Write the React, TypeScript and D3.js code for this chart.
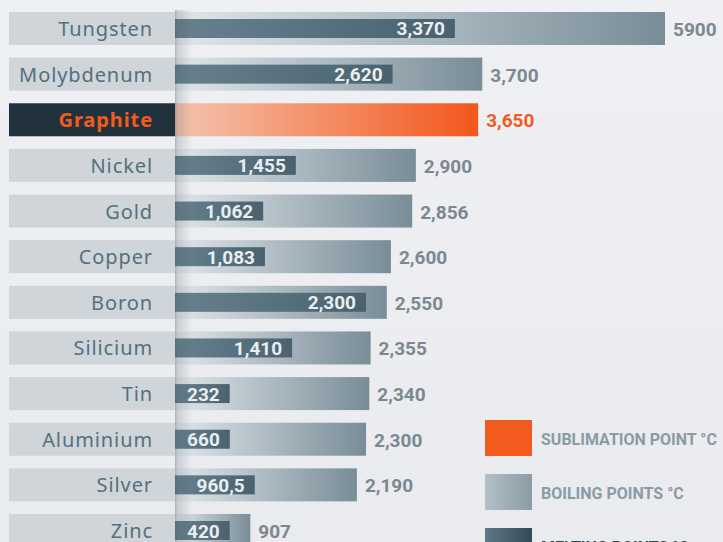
import React from "react";
import * as d3 from "d3";

const elements = ["Tungsten", "Molybdenum", "Graphite", "Nickel", "Gold", "Copper", "Boron", "Silicium", "Tin", "Aluminium", "Silver", "Zinc"];
const boilingValues = [5900, 3700, 3650, 2900, 2856, 2600, 2550, 2355, 2340, 2300, 2190, 907];
const boilingLabels = ["5900", "3,700", "3,650", "2,900", "2,856", "2,600", "2,550", "2,355", "2,340", "2,300", "2,190", "907"];
const meltingValues: (number | null)[] = [3370, 2620, null, 1455, 1062, 1083, 2300, 1410, 232, 660, 960.5, 420];
const meltingLabels = ["3,370", "2,620", "", "1,455", "1,062", "1,083", "2,300", "1,410", "232", "660", "960,5", "420"];
const sublimationElement = "Graphite";
const legendItems = ["SUBLIMATION POINT °C", "BOILING POINTS °C", "MELTING POINTS °C"];

const W = 723;
const H = 542;

let ctx: CanvasRenderingContext2D | null = null;
function textWidth(s: string, font: string) {
  if (!ctx) ctx = document.createElement("canvas").getContext("2d");
  if (!ctx) return s.length * 10;
  ctx.font = font;
  return ctx.measureText(s).width;
}

export default function App() {
  const x = d3.scaleLinear().domain([0, 5900]).range([175, 665]);
  const y = d3.scaleBand<string>().domain(elements).range([12, 547]).paddingInner(0.277).paddingOuter(0);
  const bw = y.bandwidth();
  const meltFont = "700 19px Roboto";
  const valFont = "Roboto, sans-serif";

  return (
    <svg width={W} height={H} style={{ position: "absolute", left: 0, top: 0 }} xmlns="http://www.w3.org/2000/svg">
      <defs>
        <linearGradient id="bg" x1="0" y1="0" x2="0" y2="1">
          <stop offset="0" stopColor="#eef0f3" />
          <stop offset="1" stopColor="#e9ebee" />
        </linearGradient>
        <linearGradient id="boil" x1="0" y1="0" x2="1" y2="0">
          <stop offset="0" stopColor="#e0e6ea" />
          <stop offset="1" stopColor="#798d98" />
        </linearGradient>
        <linearGradient id="subl" x1="0" y1="0" x2="1" y2="0">
          <stop offset="0" stopColor="#f4c4ae" />
          <stop offset="1" stopColor="#f3561b" />
        </linearGradient>
        <linearGradient id="melt" x1="0" y1="0" x2="1" y2="0">
          <stop offset="0" stopColor="#67818e" />
          <stop offset="1" stopColor="#4a6270" />
        </linearGradient>
        <linearGradient id="legBoil" x1="0" y1="0" x2="1" y2="0">
          <stop offset="0" stopColor="#b3c0c7" />
          <stop offset="1" stopColor="#8a9ca6" />
        </linearGradient>
        <linearGradient id="legMelt" x1="0" y1="0" x2="1" y2="0">
          <stop offset="0" stopColor="#5f7885" />
          <stop offset="1" stopColor="#334955" />
        </linearGradient>
        <linearGradient id="shadow" x1="0" y1="0" x2="1" y2="0">
          <stop offset="0" stopColor="#3a4650" stopOpacity="0.35" />
          <stop offset="0.15" stopColor="#3a4650" stopOpacity="0.18" />
          <stop offset="1" stopColor="#3a4650" stopOpacity="0" />
        </linearGradient>
      </defs>
      <rect x={0} y={0} width={W} height={H} fill="url(#bg)" />

      {elements.map((el, i) => {
        const top = y(el)!;
        const cy = top + bw / 2;
        const isSub = el === sublimationElement;
        const bEnd = x(boilingValues[i]);
        const mv = meltingValues[i];
        let melt = null;
        if (mv !== null) {
          const tw = textWidth(meltingLabels[i], meltFont);
          const mEnd = Math.max(x(mv), x(0) + tw + 22);
          const mh = 19;
          melt = (
            <g>
              <rect x={x(0)} y={cy - mh / 2} width={mEnd - x(0)} height={mh} fill="url(#melt)" />
              <text x={mEnd - 10} y={cy + 7} textAnchor="end" fill="#e9eef1" fontFamily={valFont} fontWeight={700} fontSize={19}>
                {meltingLabels[i]}
              </text>
            </g>
          );
        }
        return (
          <g key={el}>
            <rect x={9} y={top} width={x(0) - 9} height={bw} fill={isSub ? "#22323d" : "#cfd5d9"} />
            <text
              x={153}
              y={cy + 7.5}
              textAnchor="end"
              fill={isSub ? "#f25a1e" : "#54707f"}
              fontFamily="'Noto Sans', sans-serif"
              fontWeight={isSub ? 700 : 400}
              fontSize={20}
              letterSpacing={0.9}
            >
              {el}
            </text>
            <rect x={x(0)} y={top} width={bEnd - x(0)} height={bw} fill={isSub ? "url(#subl)" : "url(#boil)"} />
            {melt}
            <text
              x={bEnd + 8}
              y={cy + 7.5}
              fill={isSub ? "#f25a1e" : "#7b8891"}
              fontFamily={valFont}
              fontWeight={700}
              fontSize={19}
            >
              {boilingLabels[i]}
            </text>
          </g>
        );
      })}

      <rect x={175} y={10} width={17} height={H - 10} fill="url(#shadow)" />

      {legendItems.map((t, i) => {
        const ly = 420 + i * 54;
        const fills = ["#f35a1e", "url(#legBoil)", "url(#legMelt)"];
        return (
          <g key={t}>
            <rect x={485} y={ly} width={47} height={36} fill={fills[i]} />
            <text
              x={541}
              y={ly + 25}
              fill={i === 2 ? "#2e4350" : "#8a9ba5"}
              fontFamily={valFont}
              fontWeight={700}
              fontSize={16}
            >
              {t}
            </text>
          </g>
        );
      })}
    </svg>
  );
}
